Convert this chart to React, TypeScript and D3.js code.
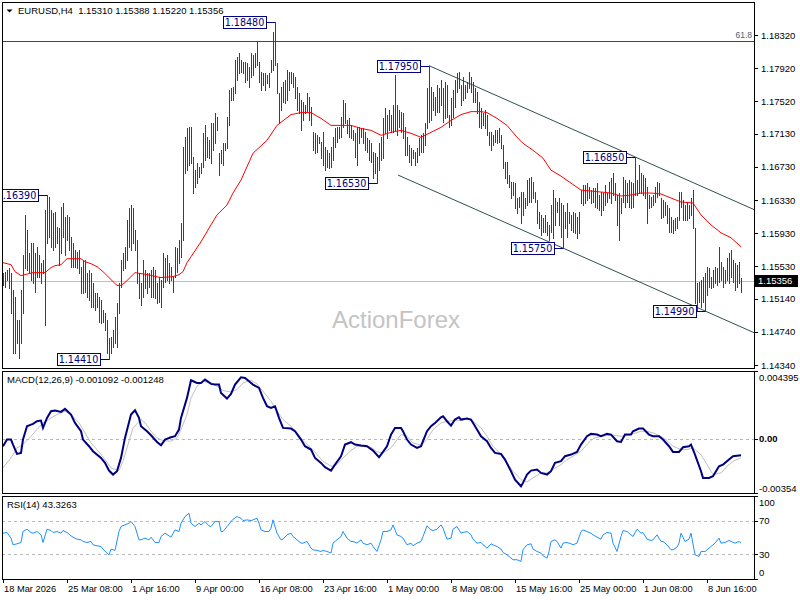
import React from 'react';
import * as d3 from 'd3';

// ---------- DATA ----------
const SYMBOL = 'EURUSD,H4';
const LAST_OHLC = [1.1531, 1.15388, 1.1522, 1.15356];

const HIGH = [
1.15454,1.15466,1.1549,1.15514,1.15454,1.1524,1.15156,1.1488,1.1488,1.1524,
1.1567,1.1615,1.1597,1.15694,1.15814,1.15814,1.15694,1.15766,1.1567,1.15574,
1.1561,1.1621,1.1639,1.16366,1.1621,1.16174,1.16186,1.16006,1.15994,1.16246,
1.16294,1.16126,1.1615,1.16126,1.15886,1.15814,1.1573,1.15706,1.1573,1.15526,
1.1561,1.1561,1.15454,1.1549,1.15454,1.15334,1.15204,1.15204,1.15156,1.1512,
1.15,1.14964,1.1488,1.14664,1.14676,1.1476,1.14916,1.15084,1.15334,1.1561,
1.15694,1.15766,1.1609,1.16234,1.1627,1.16234,1.1597,1.1585,1.15454,1.15334,
1.1561,1.1549,1.15454,1.15454,1.1549,1.15526,1.1549,1.15334,1.15406,1.1537,
1.15694,1.15634,1.1567,1.15574,1.15526,1.15406,1.15766,1.15754,1.1585,1.16054,
1.16966,1.17086,1.17194,1.17206,1.17206,1.16846,1.1669,1.16774,1.16726,1.16774,
1.17134,1.1723,1.17086,1.1705,1.17254,1.17254,1.17384,1.17326,1.16894,1.1693,
1.17014,1.17014,1.17326,1.1766,1.17684,1.17696,1.1802,1.18056,1.18104,1.1802,
1.17996,1.17996,1.17984,1.17936,1.18104,1.1808,1.18104,1.18236,1.17996,1.17876,
1.17864,1.17864,1.1784,1.17864,1.1802,1.18356,1.1848,1.17984,1.17624,1.17696,
1.17756,1.1778,1.179,1.17876,1.17876,1.17864,1.17816,1.17696,1.17624,1.1754,
1.17516,1.1748,1.17624,1.17576,1.17456,1.17146,1.17134,1.1711,1.17086,1.17026,
1.17146,1.16966,1.1693,1.16894,1.16966,1.17086,1.17194,1.17206,1.17206,1.17326,
1.1754,1.17504,1.1729,1.17314,1.1723,1.1717,1.17134,1.17206,1.17206,1.17194,
1.17194,1.17146,1.17074,1.1705,1.17014,1.16906,1.16894,1.16846,1.17014,1.17086,
1.17314,1.17444,1.1736,1.1742,1.1736,1.1748,1.1784,1.1748,1.1742,1.17396,
1.17384,1.17206,1.17086,1.1699,1.16954,1.1693,1.16906,1.16954,1.17074,1.1711,
1.17134,1.17254,1.17684,1.1795,1.17696,1.17636,1.17576,1.1772,1.17684,1.1778,
1.17684,1.17756,1.1772,1.1736,1.17564,1.1766,1.1778,1.17864,1.17876,1.1772,
1.17816,1.1772,1.17756,1.17876,1.17816,1.17756,1.17684,1.17636,1.17516,1.17444,
1.17384,1.1742,1.1736,1.17146,1.17146,1.1711,1.1717,1.1717,1.17194,1.1711,
1.1699,1.16786,1.16786,1.1663,1.16546,1.16546,1.16534,1.16354,1.16366,1.16426,
1.16426,1.16354,1.1657,1.16594,1.16606,1.16546,1.16426,1.1633,1.16186,1.1615,
1.16114,1.1615,1.16066,1.1603,1.1627,1.1645,1.16354,1.16306,1.16354,1.16294,
1.1627,1.16186,1.16294,1.16186,1.1615,1.16186,1.16174,1.16126,1.16186,1.1645,
1.1651,1.1651,1.16534,1.16486,1.1645,1.16474,1.16474,1.16534,1.1639,1.16426,
1.16414,1.1651,1.16414,1.16546,1.16594,1.16654,1.16534,1.1639,1.16414,1.16354,
1.16606,1.1657,1.16534,1.1657,1.16546,1.16534,1.1685,1.1657,1.1675,1.16654,
1.1663,1.16594,1.16486,1.1639,1.16366,1.1639,1.16486,1.16546,1.16534,1.16354,
1.1633,1.16306,1.1627,1.16234,1.16126,1.1609,1.16114,1.16126,1.16426,1.16426,
1.1633,1.1627,1.16294,1.1627,1.16354,1.1645,1.15994,1.15334,1.15346,1.1537,
1.15406,1.15454,1.15526,1.15514,1.15406,1.1549,1.15526,1.15514,1.15766,1.15586,
1.15526,1.1549,1.15634,1.15694,1.1573,1.1561,1.15574,1.1555,1.15586,1.15388];

const LOW = [
1.153,1.15276,1.1537,1.15264,1.14964,1.14484,1.14484,1.14604,1.14424,1.14604,
1.14964,1.15514,1.1549,1.15466,1.1537,1.15334,1.15216,1.15406,1.15406,1.15334,
1.15454,1.1482,1.15814,1.15886,1.15766,1.1573,1.15766,1.15814,1.1555,1.15694,
1.15886,1.1567,1.1585,1.1573,1.15526,1.15526,1.15526,1.15514,1.15454,1.15204,
1.15204,1.15216,1.15156,1.1512,1.15036,1.15036,1.15,1.15036,1.14856,1.14844,
1.14856,1.1476,1.14484,1.1441,1.14484,1.14556,1.14604,1.14556,1.14964,1.15276,
1.1549,1.15514,1.1561,1.15766,1.1573,1.15814,1.1573,1.15334,1.15144,1.1506,
1.15156,1.15264,1.15204,1.15276,1.15156,1.15156,1.15144,1.15084,1.15096,1.15036,
1.15276,1.15346,1.1537,1.15334,1.1537,1.15216,1.15406,1.15466,1.15574,1.15646,
1.1585,1.16654,1.1669,1.1675,1.16774,1.16414,1.16486,1.16534,1.16606,1.16654,
1.16726,1.1681,1.16846,1.16834,1.16774,1.1693,1.17014,1.1717,1.1663,1.16774,
1.1675,1.1693,1.16954,1.1723,1.1754,1.1754,1.17624,1.1778,1.17864,1.17876,
1.17864,1.17756,1.1778,1.17696,1.17816,1.1784,1.17936,1.1796,1.17756,1.1766,
1.1772,1.1766,1.17744,1.17696,1.17876,1.179,1.1796,1.17624,1.17254,1.1742,
1.17516,1.17504,1.1754,1.1766,1.17744,1.17696,1.17564,1.1742,1.17384,1.1717,
1.1729,1.17384,1.17396,1.1729,1.1723,1.1693,1.16894,1.16906,1.17014,1.16834,
1.1675,1.1669,1.16726,1.16714,1.16726,1.1681,1.16966,1.17026,1.17074,1.17086,
1.17206,1.17254,1.17134,1.17086,1.17074,1.1705,1.16846,1.1675,1.17014,1.17086,
1.17014,1.1693,1.16906,1.1681,1.16786,1.16594,1.16654,1.1653,1.1669,1.1681,
1.16834,1.17134,1.17074,1.1717,1.17146,1.17146,1.1717,1.1711,1.17206,1.17146,
1.17074,1.1687,1.1687,1.16786,1.1675,1.16834,1.1675,1.16786,1.1687,1.16906,
1.16906,1.1699,1.17194,1.17266,1.1729,1.1742,1.1736,1.17396,1.17396,1.1748,
1.17266,1.17314,1.17326,1.17206,1.1723,1.17326,1.17456,1.17636,1.17684,1.1748,
1.1754,1.17564,1.17636,1.17684,1.17636,1.17516,1.17516,1.17384,1.17206,1.17194,
1.1723,1.17194,1.1711,1.1699,1.1693,1.1699,1.17026,1.17014,1.17026,1.16954,
1.16714,1.16594,1.16534,1.16486,1.16354,1.1639,1.16234,1.16174,1.16246,1.16054,
1.1615,1.16234,1.1627,1.16306,1.16306,1.16354,1.16306,1.16054,1.15994,1.1591,
1.15946,1.15946,1.1591,1.1585,1.15946,1.15874,1.1603,1.16186,1.1603,1.15886,
1.1575,1.15994,1.15886,1.16054,1.1597,1.15946,1.15934,1.15874,1.15934,1.16294,
1.1627,1.16294,1.1633,1.16354,1.16294,1.16306,1.16246,1.16234,1.1621,1.1615,
1.1621,1.1627,1.16306,1.16354,1.16294,1.1639,1.1633,1.1603,1.1585,1.16174,
1.16306,1.16246,1.16306,1.16246,1.16234,1.16246,1.1639,1.1639,1.16414,1.16414,
1.1639,1.16354,1.16054,1.16234,1.16246,1.1627,1.16306,1.16366,1.1639,1.16114,
1.16126,1.1615,1.16054,1.15946,1.15946,1.15934,1.1597,1.15994,1.1609,1.16246,
1.1609,1.1609,1.1609,1.16114,1.1615,1.15994,1.15084,1.15,1.15096,1.15036,
1.15096,1.1499,1.1518,1.15276,1.15264,1.15276,1.15334,1.153,1.15346,1.1537,
1.15276,1.15334,1.1537,1.15334,1.15406,1.15346,1.1524,1.15276,1.15334,1.1522];

// moving average (bar index, price)
const MA = [
[0,1.15574],[4,1.1555],[6,1.15466],[9,1.15418],[11,1.1543],[15,1.15454],[21,1.15454],[24,1.15514],
[26,1.15538],[29,1.1555],[32,1.15622],[39,1.15622],[41,1.15586],[44,1.15562],[47,1.15526],[50,1.15466],
[54,1.1537],[57,1.153],[59,1.153],[61,1.15334],[64,1.15406],[66,1.15454],[72,1.1543],[79,1.15394],
[85,1.15406],[88,1.1543],[90,1.15466],[92,1.15574],[94,1.15646],[99,1.15826],[104,1.1603],[107,1.1615],
[112,1.1627],[115,1.16414],[119,1.1657],[125,1.16894],[132,1.1705],[137,1.1723],[144,1.1736],[149,1.17384],
[154,1.17384],[159,1.17314],[164,1.1723],[174,1.1723],[179,1.17194],[184,1.1717],[189,1.1711],[194,1.17146],
[199,1.1717],[204,1.17134],[209,1.17086],[214,1.17146],[219,1.17206],[224,1.1729],[229,1.1736],[234,1.17396],
[239,1.17396],[242,1.17384],[247,1.17314],[252,1.1723],[257,1.17086],[260,1.17014],[265,1.1693],[270,1.16834],
[274,1.1669],[279,1.16618],[284,1.16534],[289,1.1645],[294,1.16438],[299,1.16426],[304,1.16414],[309,1.16378],
[314,1.1639],[319,1.16414],[324,1.16414],[329,1.16402],[334,1.16354],[339,1.16306],[345,1.16294],[349,1.1615],
[354,1.1603],[359,1.15934],[364,1.15874],[369,1.15766]];

const MACD_MAIN = [
[0,-499e-6],[2,-65e-6],[4,-65e-6],[5,-390e-6],[7,-997e-6],[9,-932e-6],[10,-65e-6],[12,802e-6],[14,911e-6],[15,954e-6],
[17,1127e-6],[19,1171e-6],[20,694e-6],[22,1344e-6],[24,1778e-6],[26,1821e-6],[29,1735e-6],[31,1930e-6],[34,1561e-6],[36,1019e-6],
[39,477e-6],[40,-65e-6],[43,-499e-6],[45,-824e-6],[49,-1257e-6],[51,-1583e-6],[53,-2081e-6],[55,-2341e-6],[57,-2125e-6],[59,-1257e-6],
[61,43e-6],[64,1561e-6],[66,1843e-6],[68,1344e-6],[69,802e-6],[72,477e-6],[74,217e-6],[77,-217e-6],[79,-434e-6],[81,-65e-6],
[84,87e-6],[86,152e-6],[88,585e-6],[89,1344e-6],[92,2645e-6],[94,3794e-6],[97,3621e-6],[99,3621e-6],[101,3837e-6],[104,3556e-6],
[106,3512e-6],[108,3512e-6],[109,2970e-6],[112,2602e-6],[114,2905e-6],[116,3512e-6],[119,3989e-6],[121,3946e-6],[123,3729e-6],[125,3512e-6],
[128,3295e-6],[130,2645e-6],[132,2103e-6],[134,1995e-6],[136,2103e-6],[138,1344e-6],[140,694e-6],[144,650e-6],[146,477e-6],[149,-65e-6],
[151,-499e-6],[154,-715e-6],[156,-1257e-6],[159,-1583e-6],[161,-1864e-6],[164,-2081e-6],[166,-1691e-6],[169,-1149e-6],[171,-390e-6],[174,-238e-6],
[176,-390e-6],[179,-455e-6],[182,-499e-6],[185,-781e-6],[188,-1214e-6],[189,-1041e-6],[192,-499e-6],[194,260e-6],[196,694e-6],[199,694e-6],
[200,477e-6],[202,-65e-6],[204,-390e-6],[207,-607e-6],[209,-499e-6],[212,477e-6],[214,802e-6],[216,1019e-6],[219,1388e-6],[220,1453e-6],
[222,1127e-6],[224,846e-6],[226,1236e-6],[228,1388e-6],[229,1236e-6],[232,1301e-6],[234,1236e-6],[237,585e-6],[239,152e-6],[242,-173e-6],
[244,-607e-6],[246,-932e-6],[249,-997e-6],[251,-1366e-6],[254,-2125e-6],[256,-2667e-6],[259,-3100e-6],[260,-2883e-6],[262,-2341e-6],[264,-2081e-6],
[267,-2016e-6],[269,-2233e-6],[272,-2341e-6],[274,-2125e-6],[276,-1583e-6],[279,-1474e-6],[281,-1149e-6],[284,-1041e-6],[287,-867e-6],[289,-390e-6],
[292,152e-6],[294,304e-6],[297,260e-6],[299,152e-6],[302,304e-6],[304,260e-6],[307,-173e-6],[309,-217e-6],[311,260e-6],[314,260e-6],
[315,477e-6],[318,650e-6],[320,650e-6],[323,260e-6],[325,152e-6],[328,152e-6],[330,-65e-6],[333,-499e-6],[335,-867e-6],[338,-867e-6],
[340,-564e-6],[343,-499e-6],[344,-390e-6],[346,-1041e-6],[349,-2125e-6],[350,-2558e-6],[353,-2558e-6],[355,-2450e-6],[358,-1799e-6],[360,-1691e-6],
[363,-1366e-6],[365,-1149e-6],[369,-1092e-6]];

const MACD_SIGNAL = [
[0,-1908e-6],[4,-1257e-6],[7,-607e-6],[10,-390e-6],[14,152e-6],[17,585e-6],[20,1019e-6],[24,1344e-6],[27,1561e-6],[31,1778e-6],
[34,1561e-6],[38,1019e-6],[41,369e-6],[44,-282e-6],[48,-867e-6],[51,-1366e-6],[54,-1908e-6],[58,-2081e-6],[60,-1474e-6],[63,-173e-6],
[65,694e-6],[69,1236e-6],[71,1019e-6],[74,477e-6],[77,43e-6],[80,-130e-6],[84,-173e-6],[87,43e-6],[89,585e-6],[92,1561e-6],
[94,2645e-6],[97,3404e-6],[100,3729e-6],[104,3621e-6],[107,3404e-6],[110,3122e-6],[114,3035e-6],[117,3187e-6],[120,3621e-6],[124,3794e-6],
[127,3556e-6],[130,3079e-6],[134,2428e-6],[137,1778e-6],[140,1236e-6],[144,802e-6],[147,369e-6],[150,-130e-6],[154,-607e-6],[157,-1041e-6],
[160,-1474e-6],[164,-1799e-6],[167,-1691e-6],[170,-1257e-6],[174,-780e-6],[177,-499e-6],[180,-499e-6],[184,-564e-6],[187,-867e-6],[190,-932e-6],
[194,-607e-6],[199,260e-6],[202,152e-6],[205,-282e-6],[209,-434e-6],[212,-65e-6],[215,585e-6],[219,1019e-6],[222,1127e-6],[225,1171e-6],
[229,1171e-6],[232,1301e-6],[235,1127e-6],[239,694e-6],[242,152e-6],[245,-499e-6],[249,-1041e-6],[252,-1583e-6],[255,-2125e-6],[259,-2667e-6],
[262,-2819e-6],[265,-2558e-6],[269,-2233e-6],[272,-2233e-6],[275,-2016e-6],[279,-1691e-6],[282,-1366e-6],[285,-1149e-6],[289,-824e-6],[292,-390e-6],
[295,0],[299,152e-6],[302,195e-6],[305,217e-6],[309,152e-6],[312,195e-6],[315,304e-6],[319,477e-6],[322,477e-6],[325,369e-6],
[329,152e-6],[332,-130e-6],[335,-499e-6],[339,-715e-6],[342,-715e-6],[345,-607e-6],[349,-1041e-6],[352,-1691e-6],[355,-2341e-6],[359,-2233e-6],
[362,-1799e-6],[365,-1474e-6],[369,-1248e-6]];

const RSI = [
[0,55.2],[2,56],[4,49.2],[5,41.2],[7,42.4],[9,44],[10,57.2],[12,60],[14,56],[15,55.2],[17,57.2],[19,53.2],[20,44],[22,60],
[24,58.4],[25,56],[27,57.2],[29,55.2],[30,58.4],[32,56],[34,52],[35,50.4],[37,48],[39,47.2],[40,45.2],[42,44],[44,45.2],
[45,41.2],[47,40],[49,39.2],[50,36],[52,31.2],[53,29.2],[54,36],[56,34.4],[58,57.2],[59,63.2],[61,65.2],[63,67.2],[64,69.2],
[66,63.2],[68,47.2],[69,47.2],[71,49.2],[73,47.2],[74,50.4],[76,44],[78,44],[79,51.2],[81,55.2],[83,52],[84,50.4],[86,59.2],
[88,57.2],[89,67.2],[91,75.2],[93,79.2],[94,67.2],[96,63.2],[98,67.2],[99,65.2],[101,69.2],[103,64],[104,63.2],[106,69.2],
[108,69.2],[109,57.2],[110,57.2],[112,63.2],[114,69.2],[115,72],[117,75.2],[119,73.2],[120,70.4],[122,71.2],[124,70.4],
[125,71.2],[127,73.2],[128,67.2],[129,59.2],[131,57.2],[133,57.2],[134,61.2],[135,71.2],[137,55.2],[139,47.2],[140,48],
[142,53.2],[144,55.2],[145,51.2],[147,47.2],[149,43.2],[150,43.2],[152,45.2],[154,37.2],[155,35.2],[157,34.4],[159,33.2],
[160,34.4],[162,33.2],[164,31.2],[165,43.2],[167,47.2],[169,51.2],[170,57.2],[172,49.2],[174,45.2],[175,45.2],[177,43.2],
[179,47.2],[180,43.2],[182,41.2],[184,43.2],[185,39.2],[187,33.2],[189,47.2],[190,57.2],[192,57.2],[194,59.2],[195,65.2],
[197,53.2],[199,51.2],[200,49.2],[202,41.2],[204,43.2],[205,40],[207,43.2],[209,45.2],[210,51.2],[212,64],[214,59.2],
[215,58.4],[217,60],[219,65.2],[220,61.2],[222,48],[224,49.2],[225,60],[227,63.2],[229,55.2],[230,56],[232,57.2],[234,53.2],
[235,48],[237,43.2],[239,44],[240,41.2],[242,37.2],[244,42.4],[245,41.2],[247,39.2],[249,36],[250,32],[252,29.2],[254,25.2],
[255,23.2],[257,23.2],[259,21.2],[260,35.2],[262,41.2],[264,42.4],[265,36],[267,33.2],[269,31.2],[270,28],[272,25.2],
[273,33.2],[274,45.2],[276,47.2],[277,45.2],[279,37.2],[280,43.2],[282,44],[284,42.4],[285,41.2],[287,43.2],[289,57.2],
[290,59.2],[292,57.2],[294,55.2],[295,53.2],[297,50.4],[299,48],[300,53.2],[302,56],[304,55.2],[305,43.2],[307,33.2],
[309,51.2],[310,58.4],[312,57.2],[314,53.2],[315,51.2],[317,60],[319,55.2],[320,56],[322,48],[324,46.4],[325,47.2],
[327,53.2],[329,45.2],[330,45.2],[332,41.2],[334,35.2],[335,35.2],[337,38.4],[338,43.2],[339,55.2],[341,45.2],[343,48],
[344,55.2],[346,29.2],[348,27.2],[349,33.2],[351,33.2],[353,37.2],[354,39.2],[356,43.2],[358,49.2],[359,43.2],[361,44],
[363,46.4],[364,45.2],[366,43.2],[368,45.2],[369,43.3263]];

const PRICE_TICKS = [1.1832, 1.1792, 1.1752, 1.1713, 1.1673, 1.1633, 1.1593, 1.1553, 1.1514, 1.1474, 1.1434];
const MACD_TICKS = [[0.004395, '0.004395'], [0, '0.00'], [-0.00354, '-0.00354']];
const RSI_TICKS = [100, 70, 30, 0];
const RSI_LEVELS = [70, 30];
const DATE_LABELS = ['18 Mar 2026', '25 Mar 08:00', '1 Apr 16:00', '9 Apr 00:00', '16 Apr 08:00', '23 Apr 16:00',
  '1 May 00:00', '8 May 08:00', '15 May 16:00', '25 May 00:00', '1 Jun 08:00', '8 Jun 16:00'];
const DATE_IDX = [0, 32, 64, 96, 128, 160, 192, 224, 256, 288, 320, 352];

const SWING_LABELS = [
  { i: 136, p: 1.1848, t: '1.18480' },
  { i: 213, p: 1.1795, t: '1.17950' },
  { i: 187, p: 1.1653, t: '1.16530' },
  { i: 22, p: 1.1639, t: '1.16390' },
  { i: 53, p: 1.1441, t: '1.14410' },
  { i: 280, p: 1.1575, t: '1.15750' },
  { i: 316, p: 1.1685, t: '1.16850' },
  { i: 351, p: 1.1499, t: '1.14990' },
];
const CHANNEL_A = [213, 1.1795];
const CHANNEL_B = [316, 1.1685];
const CHANNEL_LOW_ANCHOR = [280, 1.1575];
const CHANNEL_LOW_START = 197.5;
const FIB_LEVEL = 1.1825;
const FIB_TEXT = '61.8';
const MACD_PARAMS = 'MACD(12,26,9) -0.001092 -0.001248';
const RSI_PARAMS = 'RSI(14) 43.3263';

// ---------- LAYOUT ----------
const PL = 2, PR = 754;
const MAIN = [2, 368], MACDP = [371, 493], RSIP = [496, 579];
const FONT = '"Liberation Sans", Arial, sans-serif';
const BAR_COLOR = '#1d4a61';
const NAVY = '#000080';

export default function App() {
  const x = d3.scaleLinear().domain([0, 369]).range([3, 741]);
  const y = d3.scaleLinear().domain([1.1434, 1.1832]).range([365, 35]);
  const ym = d3.scaleLinear().domain([-0.00354, 0.004395]).range([MACDP[1], MACDP[0]]);
  const yr = d3.scaleLinear().domain([0, 100]).range([RSIP[1], RSIP[0]]);

  const maLine = d3.line<number[]>().x(d => x(d[0])).y(d => y(d[1]));
  const mLine = d3.line<number[]>().x(d => x(d[0])).y(d => ym(d[1]));
  const rLine = d3.line<number[]>().x(d => x(d[0])).y(d => yr(d[1]));

  const slope = (CHANNEL_B[1] - CHANNEL_A[1]) / (CHANNEL_B[0] - CHANNEL_A[0]);
  const iEnd = x.invert(PR);
  const upEnd = CHANNEL_A[1] + slope * (iEnd - CHANNEL_A[0]);
  const loStart = CHANNEL_LOW_ANCHOR[1] + slope * (CHANNEL_LOW_START - CHANNEL_LOW_ANCHOR[0]);
  const loEnd = CHANNEL_LOW_ANCHOR[1] + slope * (iEnd - CHANNEL_LOW_ANCHOR[0]);

  const lastY = y(LAST_OHLC[3]);

  return (
    <svg width={800} height={600} style={{ position: 'absolute', left: 0, top: 0, background: '#fff' }}
      fontFamily={FONT}>
      <defs>
        <clipPath id="cMain"><rect x={PL} y={MAIN[0]} width={PR - PL} height={MAIN[1] - MAIN[0]} /></clipPath>
        <clipPath id="cMacd"><rect x={PL} y={MACDP[0]} width={PR - PL} height={MACDP[1] - MACDP[0]} /></clipPath>
        <clipPath id="cRsi"><rect x={PL} y={RSIP[0]} width={PR - PL} height={RSIP[1] - RSIP[0]} /></clipPath>
      </defs>
      <rect x={0} y={0} width={800} height={600} fill="#fff" />

      {/* MAIN PANEL */}
      <g clipPath="url(#cMain)">
        <text x={332} y={327.5} fontSize={24} fill="#c4c4c4">ActionForex</text>
        <line x1={PL} x2={PR} y1={Math.round(y(FIB_LEVEL)) + 0.5} y2={Math.round(y(FIB_LEVEL)) + 0.5} stroke="#2f4f4f" strokeWidth={1} />
        <line x1={PL} x2={PR} y1={Math.round(lastY) + 0.5} y2={Math.round(lastY) + 0.5} stroke="#c0c0c0" strokeWidth={1} />
        <line x1={x(CHANNEL_A[0])} y1={y(CHANNEL_A[1])} x2={PR} y2={y(upEnd)} stroke="#2f4f4f" strokeWidth={1} />
        <line x1={x(CHANNEL_LOW_START)} y1={y(loStart)} x2={PR} y2={y(loEnd)} stroke="#2f4f4f" strokeWidth={1} />
        <g shapeRendering="crispEdges">
          {HIGH.map((h, i) => (
            <line key={i} x1={x(i) + 0.5} x2={x(i) + 0.5} y1={Math.round(y(h))} y2={Math.round(y(LOW[i])) + 1}
              stroke={BAR_COLOR} strokeWidth={1} />
          ))}
        </g>
        <path d={maLine(MA) || ''} fill="none" stroke="#ff0000" strokeWidth={1} />
        {SWING_LABELS.map((s, k) => {
          const bx = x(s.i);
          const py = Math.round(y(s.p)) + 0.5;
          const right = bx - 9;
          const w = 43, h = 12;
          return (
            <g key={k}>
              <line x1={right} x2={bx} y1={py} y2={py} stroke={NAVY} strokeWidth={1} />
              <rect x={right - w + 0.5} y={py - h / 2} width={w} height={h} fill="#fff" stroke={NAVY} strokeWidth={1} />
              <text x={right - w / 2} y={py + 3.6} textAnchor="middle" fontSize={9.6}
                fontFamily='"DejaVu Sans", sans-serif' fill={NAVY}>{s.t}</text>
            </g>
          );
        })}
        <text x={752} y={38} textAnchor="end" fontSize={8.5} fill="#4a6272">{FIB_TEXT}</text>
      </g>
      <path d="M6.5,9.5 L12.5,9.5 L9.5,12.5 Z" fill="#000" />
      <text x={18} y={14} fontSize={9.5} fill="#000" style={{ whiteSpace: 'pre' }}>
        {`${SYMBOL}  ${LAST_OHLC.map(v => v.toFixed(5)).join(' ')}`}
      </text>

      {/* MACD PANEL */}
      <line x1={PL} x2={PR} y1={Math.round(ym(0)) + 0.5} y2={Math.round(ym(0)) + 0.5} stroke="#b8b8b8" strokeDasharray="3,3" />
      <g clipPath="url(#cMacd)">
        <path d={mLine(MACD_SIGNAL) || ''} fill="none" stroke="#c0c0c0" strokeWidth={1} />
        <path d={mLine(MACD_MAIN) || ''} fill="none" stroke={NAVY} strokeWidth={2} />
      </g>
      <text x={7} y={383} fontSize={9.5} fill="#000">{MACD_PARAMS}</text>

      {/* RSI PANEL */}
      {RSI_LEVELS.map(l => (
        <line key={l} x1={PL} x2={PR} y1={Math.round(yr(l)) + 0.5} y2={Math.round(yr(l)) + 0.5} stroke="#b8b8b8" strokeDasharray="3,3" />
      ))}
      <g clipPath="url(#cRsi)">
        <path d={rLine(RSI) || ''} fill="none" stroke="#1e90ff" strokeWidth={1} />
      </g>
      <text x={7} y={508} fontSize={9.5} fill="#000">{RSI_PARAMS}</text>

      {/* FRAMES */}
      <g fill="none" stroke="#000" strokeWidth={1} shapeRendering="crispEdges">
        <rect x={PL + 0.5} y={MAIN[0] + 0.5} width={PR - PL} height={MAIN[1] - MAIN[0]} />
        <rect x={PL + 0.5} y={MACDP[0] + 0.5} width={PR - PL} height={MACDP[1] - MACDP[0]} />
        <rect x={PL + 0.5} y={RSIP[0] + 0.5} width={PR - PL} height={RSIP[1] - RSIP[0]} />
      </g>

      {/* RIGHT AXES */}
      <g fontSize={9.5} fill="#000">
        {PRICE_TICKS.map(t => (
          <g key={t}>
            <line x1={PR + 1} x2={PR + 4} y1={Math.round(y(t)) + 0.5} y2={Math.round(y(t)) + 0.5} stroke="#000" />
            <text x={761} y={y(t) + 3.5}>{t.toFixed(5)}</text>
          </g>
        ))}
        <rect x={755} y={Math.round(lastY) - 6} width={43} height={12} fill="#000" />
        <text x={758} y={lastY + 3.5} fill="#fff">{LAST_OHLC[3].toFixed(5)}</text>
        {MACD_TICKS.map(([v, s]) => {
          const yy = Math.min(Math.max(ym(v as number), MACDP[0] + 6), MACDP[1] - 5);
          return (
            <g key={s as string}>
              <line x1={PR + 1} x2={PR + 4} y1={Math.round(ym(v as number)) + 0.5} y2={Math.round(ym(v as number)) + 0.5} stroke="#000" />
              <text x={759} y={yy + 3.5} fontWeight={(v as number) === 0 ? 'bold' : 'normal'}>{s as string}</text>
            </g>
          );
        })}
        {RSI_TICKS.map(v => {
          const yy = Math.min(Math.max(yr(v), RSIP[0] + 6), RSIP[1] - 7);
          return (
            <g key={v}>
              <line x1={PR + 1} x2={PR + 4} y1={Math.round(yr(v)) + 0.5} y2={Math.round(yr(v)) + 0.5} stroke="#000" />
              <text x={759} y={yy + 3.5}>{v}</text>
            </g>
          );
        })}
      </g>

      {/* BOTTOM AXIS */}
      <g fontSize={9.3} fill="#000">
        {DATE_IDX.map((di, k) => (
          <g key={k}>
            <line x1={x(di) + 0.5} x2={x(di) + 0.5} y1={RSIP[1]} y2={RSIP[1] + 4} stroke="#000" />
            <text x={x(di) + 1} y={592}>{DATE_LABELS[k]}</text>
          </g>
        ))}
      </g>
    </svg>
  );
}
